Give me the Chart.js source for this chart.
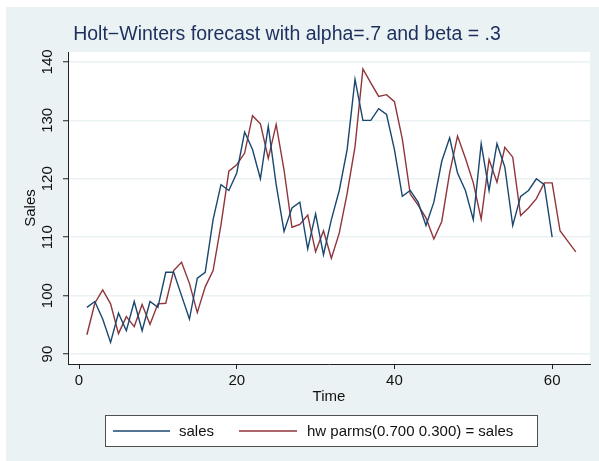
<!DOCTYPE html>
<html>
<head>
<meta charset="utf-8">
<script src="https://cdn.jsdelivr.net/npm/chart.js@4.4.1/dist/chart.umd.min.js"></script>
<style>
  html, body { margin: 0; padding: 0; background: #ffffff; }
  #wrap { width: 599px; height: 461px; }
</style>
</head>
<body>
<div id="wrap"><canvas id="chart" width="599" height="461"></canvas></div>
<script>
// Datos
const periods = [1, 2, 3, 4, 5, 6, 7, 8, 9, 10, 11, 12, 13, 14, 15, 16, 17, 18, 19, 20,
  21, 22, 23, 24, 25, 26, 27, 28, 29, 30, 31, 32, 33, 34, 35, 36, 37, 38, 39, 40,
  41, 42, 43, 44, 45, 46, 47, 48, 49, 50, 51, 52, 53, 54, 55, 56, 57, 58, 59, 60,
  61, 62, 63];

const sales = [98, 99, 96, 92, 97, 94, 99, 94, 99, 98, 104, 104, 100, 96, 103, 104, 113, 119, 118, 121,
  128, 125, 120, 129, 119, 111, 115, 116, 108, 114, 107, 113, 118, 125, 137, 130, 130, 132, 131, 125,
  117, 118, 116, 112, 116, 123, 127, 121, 118, 113, 126, 118, 126, 122, 112, 117, 118, 120, 119, 110];

const hwForecast = [93.3, 98.7, 101, 98.6, 93.5, 96.4, 94.7, 98.5, 95.1, 98.6, 98.7, 104.3, 105.7, 102.1, 97.1, 101.5, 104.3, 112.1, 121.3, 122.4,
  124.4, 130.8, 129.4, 123.5, 129.3, 121.5, 111.7, 112.2, 113.8, 107.5, 111.1, 106.4, 110.7, 117.5, 125.5, 138.8, 136.4, 134.1, 134.4, 133.2,
  126.8, 117.4, 115.5, 113.3, 109.7, 112.7, 121, 127.3, 123.5, 119.3, 113.1, 123.3, 119.4, 125.4, 123.7, 113.7, 115, 116.6, 119.3, 119.3,
  111.1, 109.3, 107.5];

const xTicks = [0, 20, 40, 60];
const yTicks = [90, 100, 110, 120, 130, 140];

const titulo = 'Holt\u2212Winters forecast with alpha=.7 and beta = .3';
const serieNombres = ['sales', 'hw parms(0.700 0.300) = sales'];

const FONT = '"Liberation Sans", Arial, sans-serif';
const BG = '#eaf2f3';
const NAVY = '#1a476f';
const MAROON = '#90353b';

function toPoints(values) {
  return values.map((v, i) => ({ x: periods[i], y: v }));
}

// Fondo estilo Stata: borde blanco, región gris azulada y área de trazado blanca
const fondoPlugin = {
  id: 'fondo',
  beforeDraw(chart) {
    const { ctx, chartArea } = chart;
    ctx.save();
    ctx.fillStyle = '#ffffff';
    ctx.fillRect(0, 0, chart.width, chart.height);
    ctx.fillStyle = BG;
    ctx.fillRect(6, 7, chart.width - 6, chart.height - 7);
    ctx.fillStyle = '#ffffff';
    ctx.fillRect(chartArea.left, chartArea.top, chartArea.right - chartArea.left, chartArea.bottom - chartArea.top);
    ctx.restore();
  }
};

// Título y leyenda en caja
const textosPlugin = {
  id: 'textos',
  afterDraw(chart) {
    const { ctx } = chart;
    ctx.save();
    ctx.fillStyle = '#1c2f5e';
    ctx.font = '19.5px ' + FONT;
    ctx.textAlign = 'center';
    ctx.textBaseline = 'alphabetic';
    ctx.fillText(titulo, 287, 40);

    // caja de la leyenda
    ctx.fillStyle = '#ffffff';
    ctx.fillRect(105, 415, 432, 31);
    ctx.strokeStyle = '#505050';
    ctx.lineWidth = 1;
    ctx.strokeRect(105.5, 415.5, 432, 31);

    const items = [
      { x0: 113, x1: 170, tx: 179 },
      { x0: 239, x1: 297, tx: 307 }
    ];
    ctx.font = '15px ' + FONT;
    ctx.textAlign = 'left';
    ctx.textBaseline = 'middle';
    chart.data.datasets.forEach((ds, i) => {
      const it = items[i];
      ctx.strokeStyle = ds.borderColor;
      ctx.lineWidth = 1.5;
      ctx.beginPath();
      ctx.moveTo(it.x0, 431);
      ctx.lineTo(it.x1, 431);
      ctx.stroke();
      ctx.fillStyle = '#111111';
      ctx.fillText(ds.label, it.tx, 431.5);
    });
    ctx.restore();
  }
};

new Chart(document.getElementById('chart'), {
  type: 'line',
  data: {
    datasets: [
      {
        label: serieNombres[0],
        data: toPoints(sales),
        borderColor: NAVY,
        borderWidth: 1.4,
        pointRadius: 0,
        tension: 0,
        fill: false
      },
      {
        label: serieNombres[1],
        data: toPoints(hwForecast),
        borderColor: MAROON,
        borderWidth: 1.4,
        pointRadius: 0,
        tension: 0,
        fill: false
      }
    ]
  },
  options: {
    responsive: false,
    animation: false,
    devicePixelRatio: 1,
    layout: { padding: { top: 52, right: 9, bottom: 0, left: 0 } },
    plugins: {
      legend: { display: false },
      title: { display: false },
      tooltip: { enabled: false }
    },
    scales: {
      x: {
        type: 'linear',
        min: -1.4,
        max: 64.8,
        afterBuildTicks: scale => { scale.ticks = xTicks.map(v => ({ value: v })); },
        afterFit: scale => { scale.height = 97; },
        grid: {
          drawOnChartArea: false,
          drawTicks: true,
          tickLength: 5,
          tickColor: '#222222',
          tickWidth: 1
        },
        border: { display: true, color: '#222222', width: 1 },
        ticks: {
          padding: 3,
          color: '#111111',
          font: { family: FONT, size: 15 },
          maxRotation: 0,
          minRotation: 0
        },
        title: {
          display: true,
          text: 'Time',
          color: '#111111',
          font: { family: FONT, size: 15 },
          padding: { top: 0, bottom: 55 }
        }
      },
      y: {
        type: 'linear',
        min: 88.3,
        max: 141.7,
        afterBuildTicks: scale => { scale.ticks = yTicks.map(v => ({ value: v })); },
        afterFit: scale => { scale.width = 68; },
        grid: {
          color: BG,
          lineWidth: 1.5,
          drawTicks: true,
          tickLength: 5,
          tickColor: '#222222',
          tickWidth: 1
        },
        border: { display: true, color: '#222222', width: 1 },
        ticks: {
          padding: 2.5,
          crossAlign: 'center',
          minRotation: 90,
          maxRotation: 90,
          color: '#111111',
          font: { family: FONT, size: 15 }
        },
        title: {
          display: true,
          text: 'Sales',
          color: '#111111',
          font: { family: FONT, size: 15 },
          padding: { top: 22, bottom: 0 }
        }
      }
    }
  },
  plugins: [fondoPlugin, textosPlugin]
});
</script>
</body>
</html>
